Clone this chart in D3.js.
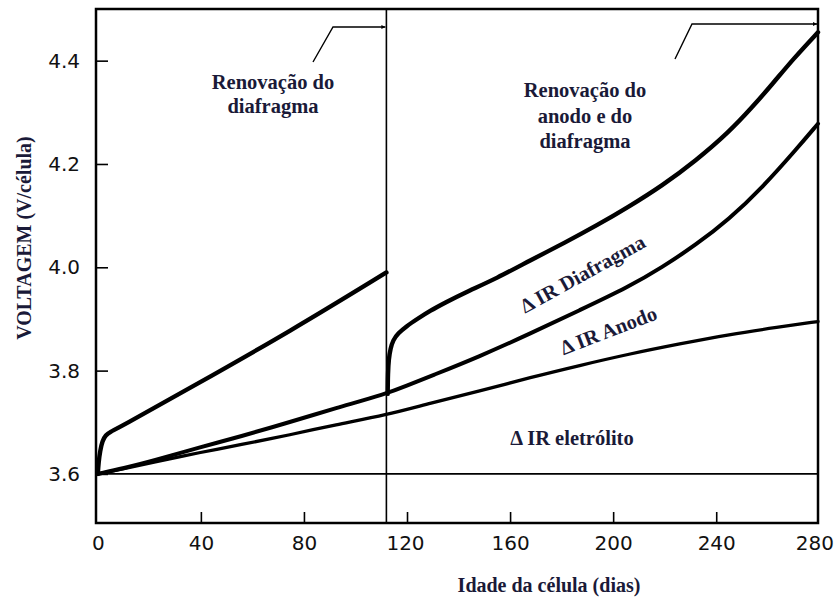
<!DOCTYPE html>
<html>
<head>
<meta charset="utf-8">
<script src="https://cdn.jsdelivr.net/npm/d3@7"></script>
<style>
  html, body { margin: 0; padding: 0; background: #ffffff; }
  svg { display: block; }
</style>
</head>
<body>
<svg id="chart" width="837" height="601"></svg>
<script>
// ---------- data (days, volts) ----------
const renewalDay = 112;
const xTicks = [0, 40, 80, 120, 160, 200, 240, 280];
const yTicks = [3.6, 3.8, 4.0, 4.2, 4.4];

// total cell voltage before the diaphragm renewal
const totalBefore = [
  [0, 3.600], [0.3, 3.622], [0.9, 3.645], [1.8, 3.664], [3.0, 3.675], [5.0, 3.682],
  [8, 3.689], [36, 3.767], [75, 3.877], [112, 3.990]
];
// total cell voltage after anode + diaphragm renewal
const totalAfter = [
  [112.5, 3.755], [112.6, 3.795], [112.9, 3.822], [113.6, 3.843], [114.6, 3.859],
  [116.5, 3.872], [119.8, 3.886], [124, 3.900], [129, 3.916], [135, 3.932],
  [142, 3.950], [155, 3.979], [168, 4.014], [181, 4.047], [194, 4.082],
  [206, 4.117], [219, 4.158], [232, 4.206], [245, 4.262], [254, 4.310],
  [262, 4.356], [270, 4.404], [279.5, 4.455]
];
// anode contribution boundary
const anodeLine = [
  [0, 3.600], [10, 3.611], [21, 3.625], [40, 3.652], [55, 3.672], [75, 3.701],
  [92, 3.727], [112, 3.755], [120, 3.771], [129, 3.789], [148, 3.827], [168, 3.872],
  [187, 3.917], [206, 3.962], [219, 4.000], [232, 4.043], [245, 4.093],
  [258, 4.155], [271, 4.228], [279.5, 4.278]
];
// electrolyte contribution boundary
const electrolyteLine = [
  [0, 3.600], [10, 3.610], [21, 3.622], [40, 3.642], [55, 3.656], [75, 3.676],
  [92, 3.695], [112, 3.714], [129, 3.737], [148, 3.760], [168, 3.787], [187, 3.810],
  [206, 3.832], [226, 3.852], [245, 3.870], [264, 3.884], [279.5, 3.895]
];
const baseVoltage = 3.6;

// ---------- layout ----------
const svg = d3.select("#chart");
const pLeft = 96, pRight = 818, pTop = 9, pBottom = 523;
const x = d3.scaleLinear().domain([-0.7, 279.5]).range([pLeft, pRight]);
const y = d3.scaleLinear().domain([3.505, 4.500]).range([pBottom, pTop]);

const ink = "#000000";
const textInk = "#1a1a38";
const serif = "'Liberation Serif', 'Times New Roman', serif";
const sans = "'DejaVu Sans', sans-serif";

// baseline at 3.6 V
svg.append("line")
  .attr("x1", pLeft).attr("x2", pRight)
  .attr("y1", y(baseVoltage)).attr("y2", y(baseVoltage))
  .attr("stroke", ink).attr("stroke-width", 1.6);

// renewal vertical line
svg.append("line")
  .attr("x1", x(renewalDay)).attr("x2", x(renewalDay))
  .attr("y1", pTop).attr("y2", pBottom)
  .attr("stroke", ink).attr("stroke-width", 1.6);

// axes
const yAxis = d3.axisLeft(y).tickValues(yTicks).tickFormat(d3.format(".1f"))
  .tickSizeInner(-12).tickSizeOuter(0).tickPadding(16);
const xAxis = d3.axisBottom(x).tickValues(xTicks).tickFormat(d3.format("d"))
  .tickSizeInner(-11).tickSizeOuter(0).tickPadding(13);

const gy = svg.append("g").attr("transform", `translate(${pLeft},0)`).call(yAxis);
const gx = svg.append("g").attr("transform", `translate(0,${pBottom})`).call(xAxis);
[gy, gx].forEach(g => {
  g.select(".domain").remove();
  g.selectAll(".tick line").attr("stroke", ink).attr("stroke-width", 1.6);
  g.selectAll(".tick text").attr("fill", "#111").style("font-family", sans)
    .style("font-size", "20px");
});
gx.selectAll(".tick").filter(d => d === 0 || d === 280).select("line").remove();
gx.selectAll(".tick").filter(d => d === 280).select("text").attr("dx", -5);
gx.selectAll(".tick").filter(d => d === 120).select("text").attr("dx", -2);

// frame
svg.append("rect")
  .attr("x", pLeft).attr("y", pTop)
  .attr("width", pRight - pLeft).attr("height", pBottom - pTop)
  .attr("fill", "none").attr("stroke", ink).attr("stroke-width", 2.5);

// curves
const line = d3.line().x(d => x(d[0])).y(d => y(d[1])).curve(d3.curveBasis);
const series = [
  { data: totalBefore, w: 4.4 },
  { data: totalAfter, w: 4.4 },
  { data: anodeLine, w: 4.0 },
  { data: electrolyteLine, w: 3.3 }
];
svg.append("g").selectAll("path").data(series).join("path")
  .attr("d", d => line(d.data))
  .attr("fill", "none").attr("stroke", ink)
  .attr("stroke-width", d => d.w)
  .attr("stroke-linejoin", "round").attr("stroke-linecap", "round");

// arrow marker
svg.append("defs").append("marker")
  .attr("id", "arrow").attr("viewBox", "0 0 10 10")
  .attr("refX", 10).attr("refY", 5)
  .attr("markerWidth", 7).attr("markerHeight", 4)
  .attr("markerUnits", "userSpaceOnUse").attr("orient", "auto")
  .append("path").attr("d", "M0,0 L10,5 L0,10 z").attr("fill", ink);

// annotation arrows
const arrows = [
  [[313, 62], [333, 27], [x(renewalDay) - 1, 27]],
  [[675, 59], [692, 24], [pRight - 1, 24]]
];
svg.append("g").selectAll("path").data(arrows).join("path")
  .attr("d", d => d3.line()(d))
  .attr("fill", "none").attr("stroke", ink).attr("stroke-width", 1.4)
  .attr("marker-end", "url(#arrow)");

// text annotations
function multiline(lines, cx, y0, dy) {
  const t = svg.append("text")
    .attr("text-anchor", "middle")
    .attr("fill", textInk)
    .style("font-family", serif).style("font-weight", "bold").style("font-size", "20.5px");
  lines.forEach((s, i) => t.append("tspan").attr("x", cx).attr("y", y0 + i * dy).text(s));
}
multiline(["Renovação do", "diafragma"], 273, 89, 24);
multiline(["Renovação do", "anodo e do", "diafragma"], 585, 97, 25.5);

const rotLabels = [
  { t: "Δ IR Diafragma", cx: 586, cy: 280, a: -29 },
  { t: "Δ IR Anodo", cx: 611, cy: 337, a: -21 },
  { t: "Δ IR eletrólito", cx: 572, cy: 445, a: 0 }
];
svg.append("g").selectAll("text").data(rotLabels).join("text")
  .attr("transform", d => `translate(${d.cx},${d.cy}) rotate(${d.a})`)
  .attr("text-anchor", "middle").attr("fill", textInk)
  .style("font-family", serif).style("font-weight", "bold").style("font-size", "20.5px")
  .text(d => d.t);

// axis titles
svg.append("text")
  .attr("transform", `translate(31,238) rotate(-90)`)
  .attr("text-anchor", "middle").attr("fill", textInk)
  .style("font-family", serif).style("font-weight", "bold").style("font-size", "20px")
  .text("VOLTAGEM (V/célula)");
svg.append("text")
  .attr("x", 549).attr("y", 592)
  .attr("text-anchor", "middle").attr("fill", textInk)
  .style("font-family", serif).style("font-weight", "bold").style("font-size", "20px")
  .text("Idade da célula (dias)");
</script>
</body>
</html>
